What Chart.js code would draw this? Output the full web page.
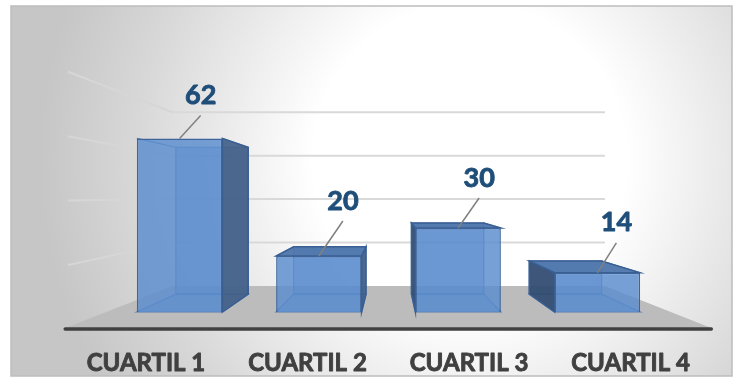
<!DOCTYPE html>
<html>
<head>
<meta charset="utf-8">
<script src="https://cdn.jsdelivr.net/npm/chart.js@4.4.0/dist/chart.umd.min.js"></script>
<style>
  html, body { margin: 0; padding: 0; background: #fff; }
</style>
</head>
<body>
<canvas id="chart" width="734" height="377"></canvas>
<script>
const categories = ['CUARTIL 1', 'CUARTIL 2', 'CUARTIL 3', 'CUARTIL 4'];
const values = [62, 20, 30, 14];
const gridTicks = [20, 40, 60, 80];

// where each value label sits relative to its bar top (dx, rise of the leader)
const leaderOffsets = [[21, 23], [24, 35], [21, 30], [19, 30]];

// fake 3D: everything is scaled towards a vanishing point
const VP = { x: 390, y: 196 };
const DEPTH_BAR = 0.846;
const DEPTH_WALL = 0.776;
const FLOOR_FRONT = { sx: 1.16, sy: 1.138 };
const LEFT_WALL_FRONT = 1.15;

function proj(x, y, sx, sy) {
  if (sy === undefined) sy = sx;
  return { x: VP.x + (x - VP.x) * sx, y: VP.y + (y - VP.y) * sy };
}

function poly(ctx, pts, fill, stroke, lw) {
  ctx.beginPath();
  ctx.moveTo(pts[0].x, pts[0].y);
  for (let i = 1; i < pts.length; i++) ctx.lineTo(pts[i].x, pts[i].y);
  ctx.closePath();
  if (fill) { ctx.fillStyle = fill; ctx.fill(); }
  if (stroke) { ctx.strokeStyle = stroke; ctx.lineWidth = lw || 1; ctx.stroke(); }
}

function line(ctx, a, b, color, lw) {
  ctx.beginPath();
  ctx.moveTo(a.x, a.y);
  ctx.lineTo(b.x, b.y);
  ctx.strokeStyle = color;
  ctx.lineWidth = lw;
  ctx.stroke();
}

// heavy text: fill plus a thin stroke in the same colour
function boldText(ctx, text, x, y, color) {
  ctx.fillStyle = color;
  ctx.strokeStyle = color;
  ctx.lineWidth = 0.9;
  ctx.lineJoin = 'round';
  ctx.fillText(text, x, y);
  ctx.strokeText(text, x, y);
}

const scene = {
  id: 'scene',
  beforeDraw(chart) {
    const ctx = chart.ctx;
    ctx.save();
    const g = ctx.createRadialGradient(470, 160, 40, 470, 160, 430);
    g.addColorStop(0, '#ffffff');
    g.addColorStop(0.3, '#ffffff');
    g.addColorStop(0.75, '#d8d8d8');
    g.addColorStop(1, '#c6c6c6');
    ctx.fillStyle = g;
    ctx.fillRect(11, 6, 721, 370);
    ctx.strokeStyle = '#bdbdbd';
    ctx.lineWidth = 1.5;
    ctx.strokeRect(11, 6, 721, 370);
    ctx.restore();
  },
  beforeDatasetsDraw(chart) {
    const ctx = chart.ctx;
    const area = chart.chartArea;
    const y = chart.scales.y;
    const base = y.getPixelForValue(0);
    ctx.save();

    // floor
    const fl = [
      proj(area.left, base, DEPTH_WALL),
      proj(area.right, base, DEPTH_WALL),
      proj(area.right, base, FLOOR_FRONT.sx, FLOOR_FRONT.sy),
      proj(area.left, base, FLOOR_FRONT.sx, FLOOR_FRONT.sy)
    ];
    poly(ctx, fl, '#bcbcbc');

    // gridlines on the back and left walls
    ctx.lineCap = 'butt';
    gridTicks.forEach(t => {
      const py = y.getPixelForValue(t);
      const a = proj(area.left, py, DEPTH_WALL);
      const b = proj(area.right, py, DEPTH_WALL);
      const c = proj(area.left, py, LEFT_WALL_FRONT);
      line(ctx, a, b, '#d9d9d9', 2);
      line(ctx, c, a, '#d6d6d6', 2);
    });

    // back, bottom and side faces of each bar
    const meta = chart.getDatasetMeta(0);
    meta.data.forEach(el => {
      const p = el.getProps(['x', 'y', 'base', 'width'], true);
      const x0 = p.x - p.width / 2, x1 = p.x + p.width / 2;
      const yt = p.y, yb = p.base;
      const F = {
        tl: { x: x0, y: yt }, tr: { x: x1, y: yt },
        bl: { x: x0, y: yb }, br: { x: x1, y: yb }
      };
      const B = {
        tl: proj(x0, yt, DEPTH_BAR), tr: proj(x1, yt, DEPTH_BAR),
        bl: proj(x0, yb, DEPTH_BAR), br: proj(x1, yb, DEPTH_BAR)
      };
      const edge = 'rgba(55,100,165,0.75)';
      poly(ctx, [B.tl, B.tr, B.br, B.bl], 'rgba(80,126,190,0.4)', edge, 1.2);
      poly(ctx, [F.bl, F.br, B.br, B.bl], 'rgba(70,115,180,0.3)', edge, 1.2);
      line(ctx, F.tl, B.tl, edge, 1.2);
      line(ctx, F.tr, B.tr, edge, 1.2);

      if (x1 < VP.x) {
        poly(ctx, [F.tr, B.tr, B.br, F.br], 'rgba(66,96,136,0.92)', '#3a5f92', 1.5);
      }
      if (x0 > VP.x) {
        poly(ctx, [F.tl, B.tl, B.bl, F.bl], 'rgba(50,76,112,0.92)', '#3a5f92', 1.5);
      }
      if (yt > VP.y) {
        poly(ctx, [F.tl, F.tr, B.tr, B.tl], 'rgba(78,118,172,0.95)', '#3a5f92', 1.5);
      }
    });
    ctx.restore();
  },
  afterDatasetsDraw(chart) {
    const ctx = chart.ctx;
    const area = chart.chartArea;
    const base = chart.scales.y.getPixelForValue(0);
    ctx.save();

    // floor front edge
    const fa = proj(area.left, base, FLOOR_FRONT.sx, FLOOR_FRONT.sy);
    const fb = proj(area.right, base, FLOOR_FRONT.sx, FLOOR_FRONT.sy);
    ctx.lineCap = 'round';
    line(ctx, { x: fa.x, y: fa.y + 1 }, { x: fb.x, y: fb.y + 1 }, '#404040', 3.5);

    // value labels with leader lines
    const meta = chart.getDatasetMeta(0);
    ctx.lineCap = 'butt';
    ctx.textAlign = 'center';
    ctx.textBaseline = 'alphabetic';
    meta.data.forEach((el, i) => {
      const p = el.getProps(['x', 'y'], true);
      const [dx, dy] = leaderOffsets[i];
      const sx = p.x + dx, sy = p.y - dy;
      line(ctx, { x: sx, y: sy }, { x: p.x, y: p.y }, '#808080', 1.5);
      ctx.font = 'bold 27px Lato';
      boldText(ctx, String(values[i]), sx, sy - 11.5, '#1f4e79');
    });

    // category labels along the front of the floor
    const x = chart.scales.x;
    ctx.font = 'bold 24px Lato';
    categories.forEach((c, i) => {
      const cx = proj(x.getPixelForValue(i), base, FLOOR_FRONT.sx).x;
      boldText(ctx, c, cx, 371, '#404040');
    });
    ctx.restore();
  }
};

const ctx = document.getElementById('chart').getContext('2d');
new Chart(ctx, {
  type: 'bar',
  data: {
    labels: categories,
    datasets: [{
      data: values,
      backgroundColor: 'rgba(92,142,206,0.84)',
      borderColor: '#3d659c',
      borderWidth: 1.5,
      barPercentage: 0.614,
      categoryPercentage: 1
    }]
  },
  options: {
    responsive: false,
    animation: false,
    layout: { padding: { left: 110, right: 67, top: 88, bottom: 65 } },
    scales: {
      x: { display: false },
      y: { display: false, min: 0, max: 80 }
    },
    plugins: {
      legend: { display: false },
      tooltip: { enabled: false }
    }
  },
  plugins: [scene]
});
</script>
</body>
</html>
